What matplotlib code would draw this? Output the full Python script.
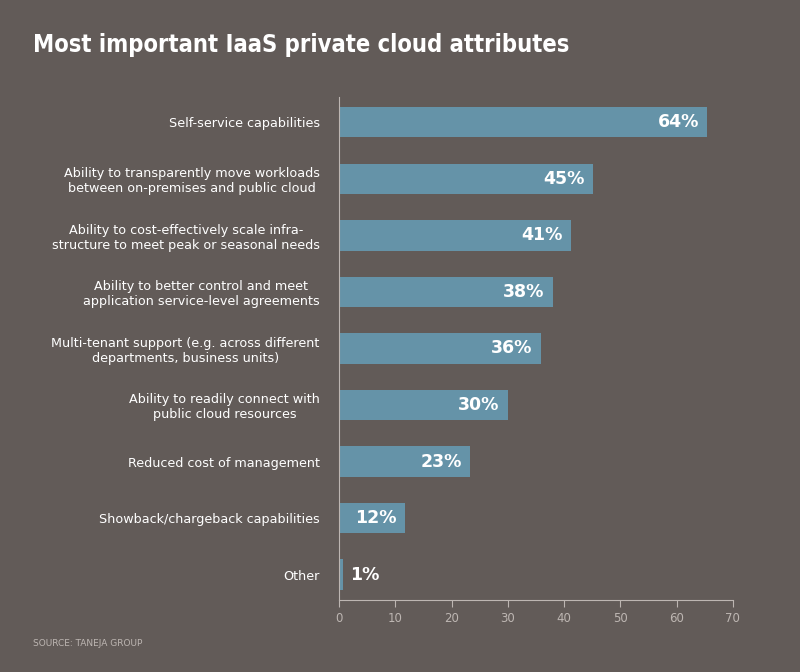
import matplotlib.pyplot as plt
import numpy as np

categories = [
    'Self-service capabilities',
    'Ability to transparently move workloads\nbetween on-premises and public cloud',
    'Ability to cost-effectively scale infra-\nstructure to meet peak or seasonal needs',
    'Ability to better control and meet\napplication service-level agreements',
    'Multi-tenant support (e.g. across different\ndepartments, business units)',
    'Ability to readily connect with\npublic cloud resources',
    'Reduced cost of management',
    'Showback/chargeback capabilities',
    'Other',
]
values = [64, 45, 41, 38, 36, 30, 23, 12, 1]
bar_lengths = [65.5, 45.1, 41.2, 38, 35.9, 30, 23.3, 11.7, 0.7]

bg = '#625b58'
bar_color = '#6593a8'
tick_color = '#bdb6b2'

fig = plt.figure(figsize=(8, 6.72), dpi=100, facecolor=bg)
ax = fig.add_axes([0.424, 0.107, 0.492, 0.749], facecolor=bg)

y = np.arange(len(categories))
ax.barh(y, bar_lengths, height=0.54, color=bar_color)
for yi, v, l in zip(y, values, bar_lengths):
    if l > 5:
        ax.text(l - 1.5, yi, f'{v}%', ha='right', va='center', color='white',
                fontsize=12.5, fontweight='bold')
    else:
        ax.text(l + 1.3, yi, f'{v}%', ha='left', va='center', color='white',
                fontsize=12.5, fontweight='bold')

ax.set_ylim(len(categories) - 0.55, -0.45)
ax.set_xlim(0, 70)
ax.set_xticks(range(0, 71, 10))
ax.set_yticks(y)
ax.set_yticklabels(categories, color='white', fontsize=9.2, ha='right',
                   multialignment='center')
ax.tick_params(axis='y', length=0, pad=14)
ax.tick_params(axis='x', colors=tick_color, labelsize=8.5, length=5, direction='out')
for s in ['top', 'right']:
    ax.spines[s].set_visible(False)
ax.spines['left'].set_color(tick_color)
ax.spines['bottom'].set_color(tick_color)

fig.text(0.041, 0.933, 'Most important IaaS private cloud attributes', color='white',
         fontsize=17, fontweight='bold', va='center', fontstretch='condensed')
fig.text(0.041, 0.043, 'SOURCE: TANEJA GROUP', color=tick_color, fontsize=6.5, va='center')

fig.savefig('out.png', facecolor=bg)
